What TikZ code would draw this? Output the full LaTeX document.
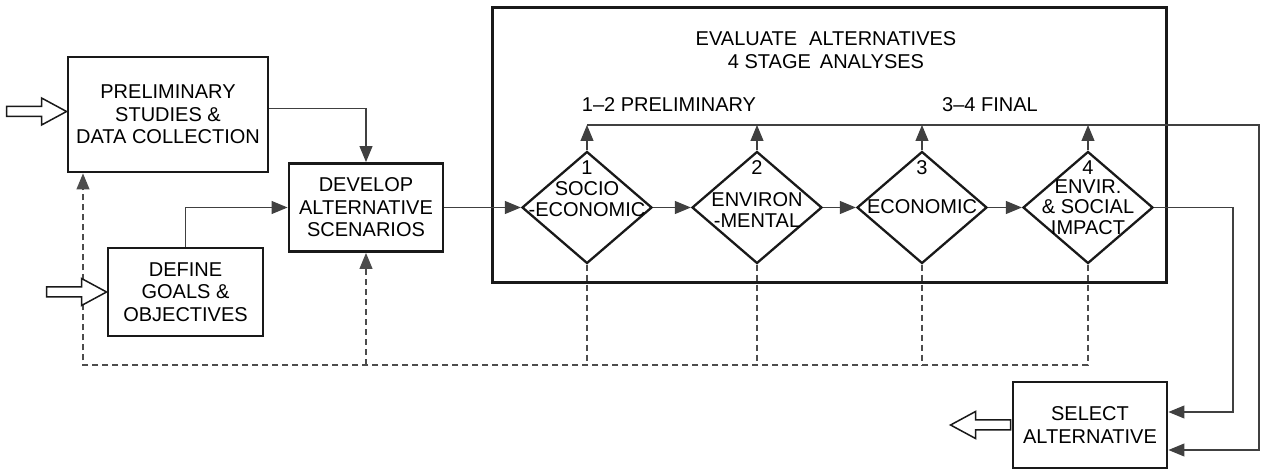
\documentclass[tikz,border=0pt]{standalone}
\usepackage{fontspec}
\setmainfont{Liberation Sans}
\usetikzlibrary{calc,arrows.meta,shapes.geometric}
\def\fatarrow[#1](#2){\draw[line width=1.5pt, draw=black!90, fill=white, shift={(#2)}, #1] (0,0) -- (-25,-13.5) -- (-25,-5) -- (-60,-5) -- (-60,5) -- (-25,5) -- (-25,13.5) -- cycle;}

\begin{document}
\begin{tikzpicture}[x=1pt, y=-1pt,
		box/.style={draw=black!90, line width=2.9pt, align=center, inner sep=0pt, font=\fontsize{20}{22.5}\selectfont},
		test/.style={shape=diamond, draw=black!90, line width=2.3pt, minimum width=130pt, minimum height=112pt, inner sep=0pt},
		lbl/.style={align=center, inner sep=0pt, font=\fontsize{20}{20.5}\selectfont},
		wire/.style={draw=black!75, line width=1.1pt},
		tip/.style={wire, -{Triangle[length=16pt,width=13pt]}},
		fb/.style={draw=black!70, line width=1.1pt, dash pattern=on 6pt off 4pt},
		fbtip/.style={fb, -{Triangle[length=16pt,width=13pt]}}]
			%%%%% START %%%%%
			
			\useasboundingbox (0,0) rectangle (1262,470);
			
			\node[box, minimum width=200pt, minimum height=115pt] (prelim) at (168,114.5) {PRELIMINARY\\STUDIES \&\\DATA COLLECTION};
			\node[box, minimum width=155pt, minimum height=88pt] (goals) at (185.5,292) {DEFINE\\GOALS \&\\OBJECTIVES};
			\node[box, minimum width=154pt, minimum height=88pt] (develop) at (366,207.5) {DEVELOP\\ALTERNATIVE\\SCENARIOS};
			\node[box, minimum width=154pt, minimum height=86pt] (select) at (1090,425) {SELECT\\ALTERNATIVE};
			
			\node[box, line width=3pt, minimum width=674pt, minimum height=275pt] (eval) at (829,145.5) {};
			\node[lbl, font=\fontsize{20}{23.5}\selectfont] (title) at (826,50) {EVALUATE\hspace{0.6em}ALTERNATIVES\\4 STAGE\hspace{0.45em}ANALYSES};
			\node[lbl] (early) at (669,105) {1–2 PRELIMINARY};
			\node[lbl] (late) at (990,105) {3–4 FINAL};
			
			\node[test] (d1) at (587,207.5) {};
			\node[test] (d2) at (757,207.5) {};
			\node[test] (d3) at (922,207.5) {};
			\node[test] (d4) at (1088,207.5) {};
			
			\node[lbl] (n1) at (587,168) {1};
			\node[lbl] (n2) at (757,168) {2};
			\node[lbl] (n3) at (922,168) {3};
			\node[lbl] (n4) at (1088,168) {4};
			\node[lbl] (t1) at (587,199) {SOCIO\\-ECONOMIC};
			\node[lbl] (t2) at (757,210) {ENVIRON\\-MENTAL};
			\node[lbl] (t3) at (922,207) {ECONOMIC};
			\node[lbl] (t4) at (1088,207) {ENVIR.\\\& SOCIAL\\IMPACT};
			
			\coordinate (top) at (587,125);
			\coordinate (out1) at (1233,412);
			\coordinate (out2) at (1259,450);
			\coordinate (back) at (83,365);
			
			% forward flow
			\draw[tip] ([yshift=6pt]prelim.east) -| (develop.north);
			\draw[tip] (goals.north) |- (develop.west);
			\draw[tip] (develop.east) -- (d1.west);
			\draw[tip] (d1.east) -- (d2.west);
			\draw[tip] (d2.east) -- (d3.west);
			\draw[tip] (d3.east) -- (d4.west);
			
			\foreach \d in {d1,d2,d3,d4} \draw[tip] (\d.north) -- (\d.north |- top);
			\draw[tip] (top) -| (out2) -- (out2 -| select.east);
			\draw[tip] (d4.east) -| (out1) -- (out1 -| select.east);
			
			% feedback
			\foreach \d in {d1,d2,d3} \draw[fb] (\d.south) -- (\d.south |- back);
			\draw[fbtip] (d4.south) |- (back) -- (back |- prelim.south);
			\draw[fbtip] (develop.south |- back) -- (develop.south);
			
			\fatarrow[]([yshift=3pt]prelim.west)
			\fatarrow[](goals.west)
			\fatarrow[xscale=-1]([xshift=-61pt]select.west)
			
			%%%%% END %%%%%
		\end{tikzpicture}
\end{document}
